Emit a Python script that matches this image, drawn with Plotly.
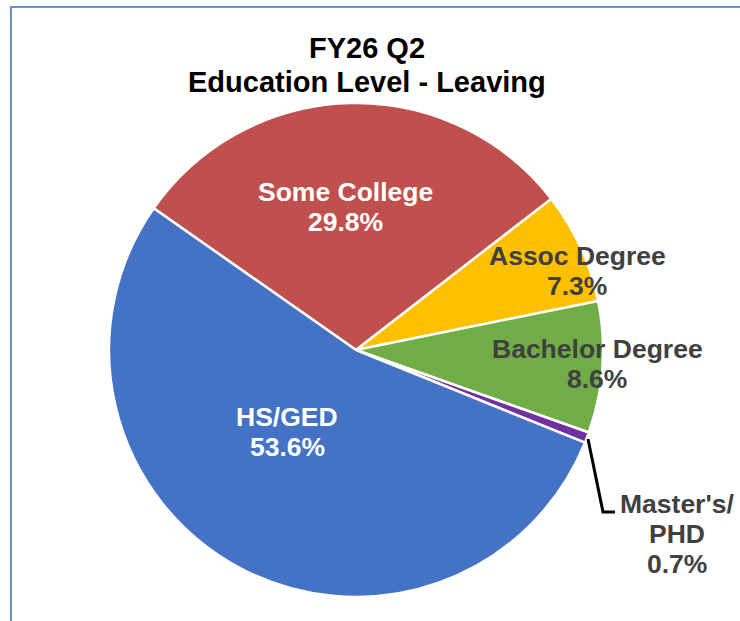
import plotly.graph_objects as go

W, H = 740, 621

labels = ["Some College", "Assoc Degree", "Bachelor Degree", "Master's/<br>PHD", "HS/GED"]
values = [29.8, 7.3, 8.6, 0.7, 53.6]
colors = ["#C0504D", "#FFC000", "#70AD47", "#7030A0", "#4472C4"]

# label placement (pixel centres) and text colour for each slice
label_pos = [(345, 192), (577, 256), (597, 349), (677, 504), (287, 417)]
label_col = ["white", "#404040", "#404040", "#404040", "white"]
line_gap = 30


def px(x, y):
    return x / W, 1 - y / H


# pie centre (356, 350), radius 247
cx, cy, r = 356, 350, 247

fig = go.Figure(go.Pie(
    labels=labels, values=values, sort=False,
    direction="clockwise", rotation=305,
    marker=dict(colors=colors, line=dict(color="white", width=2.5)),
    textinfo="none", hoverinfo="label+percent",
    domain=dict(x=[(cx - r) / W, (cx + r) / W], y=[1 - (cy + r) / H, 1 - (cy - r) / H]),
    showlegend=False,
))

annotations = []
for lab, val, (x, y), col in zip(labels, values, label_pos, label_col):
    lines = lab.split("<br>") + [f"{val:.1f}%"]
    for i, t in enumerate(lines):
        ax, ay = px(x, y + i * line_gap)
        annotations.append(dict(
            x=ax, y=ay, xref="paper", yref="paper", text=f"<b>{t}</b>", showarrow=False,
            xanchor="center", yanchor="middle",
            font=dict(family="Liberation Sans, Arial, sans-serif", size=26.5, color=col),
        ))

for i, t in enumerate(["FY26 Q2", "Education Level - Leaving"]):
    ax, ay = px(367, 48 + i * 34)
    annotations.append(dict(
        x=ax, y=ay, xref="paper", yref="paper", text=f"<b>{t}</b>", showarrow=False,
        xanchor="center", yanchor="middle",
        font=dict(family="Liberation Sans, Arial, sans-serif", size=29, color="black"),
    ))

shapes = [
    # chart frame (only top and left edges visible)
    dict(type="path", xref="paper", yref="paper",
         path=f"M {px(11, 625)[0]},{px(11, 625)[1]} L {px(11, 7)[0]},{px(11, 7)[1]} L {px(745, 7)[0]},{px(745, 7)[1]}",
         line=dict(color="#6A93CF", width=2)),
    # leader line for Master's/PHD
    dict(type="path", xref="paper", yref="paper",
         path=f"M {px(588, 439)[0]},{px(588, 439)[1]} L {px(603, 512)[0]},{px(603, 512)[1]} L {px(615, 512)[0]},{px(615, 512)[1]}",
         line=dict(color="black", width=3)),
]

fig.update_layout(
    width=W, height=H,
    margin=dict(l=0, r=0, t=0, b=0),
    paper_bgcolor="white",
    annotations=annotations,
    shapes=shapes,
)

fig.write_html("out.html", config={"displayModeBar": False},
               post_script="document.body.style.margin='0';")
